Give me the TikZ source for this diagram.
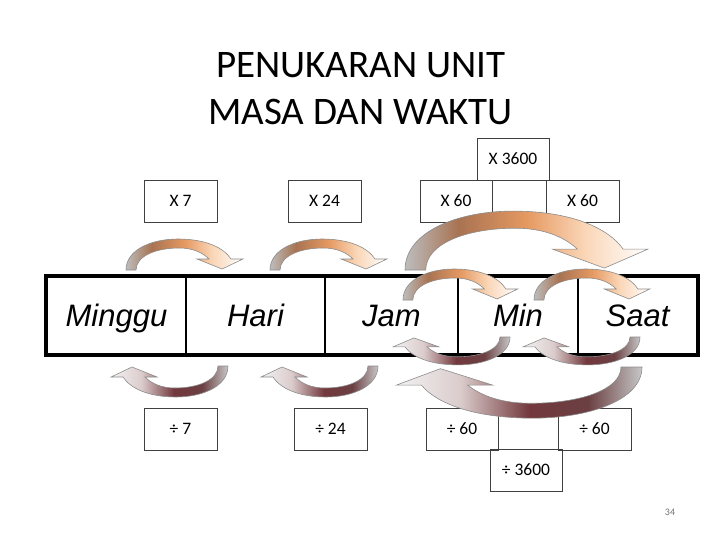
\documentclass[tikz,border=0pt]{standalone}
\usepackage{fontspec}
\setmainfont{Carlito}
\newfontfamily\arialfont{Liberation Sans}
\usepackage{tikz}
% colour runs of the bent arrows
\pgfdeclarehorizontalshading{upshade}{100bp}{rgb(0bp)=(0.74,0.74,0.74); rgb(25bp)=(0.74,0.74,0.74);
  rgb(36bp)=(0.66,0.45,0.32); rgb(50bp)=(0.90,0.60,0.38); rgb(62bp)=(0.98,0.84,0.72);
  rgb(75bp)=(1,1,1); rgb(100bp)=(1,1,1)}
\pgfdeclarehorizontalshading{downshade}{100bp}{rgb(0bp)=(0.95,0.95,0.95); rgb(25bp)=(0.95,0.95,0.95);
  rgb(38bp)=(0.86,0.80,0.80); rgb(52bp)=(0.45,0.22,0.24); rgb(64bp)=(0.42,0.25,0.26);
  rgb(75bp)=(0.78,0.78,0.78); rgb(100bp)=(0.78,0.78,0.78)}
\tikzstyle{cell}=[rectangle,draw=black,line width=2.5pt,minimum height=77pt,inner sep=0pt,
  text height=22pt,text depth=1pt,font=\arialfont\itshape\fontsize{31}{31}\selectfont]
\tikzstyle{op}=[rectangle,draw=black!75,line width=0.9pt,minimum width=73pt,minimum height=42pt,
  inner sep=0pt,font=\fontsize{17.5}{17.5}\selectfont]
\tikzstyle{head}=[anchor=base,font=\fontsize{39}{39}\selectfont]
\tikzstyle{none}=[]
% tail x, tail y, x scale, y scale, shading
\newcommand{\bendarrow}[5]{%
  \shadedraw[shading=#5,draw=black!45,line width=0.6pt]
    ({#1},{#2}) .. controls ({#1},{#2-(#4)*20}) and ({#1+(#3)*25},{#2-(#4)*31}) .. ({#1+(#3)*52},{#2-(#4)*31})
    .. controls ({#1+(#3)*80},{#2-(#4)*31}) and ({#1+(#3)*98},{#2-(#4)*22}) .. ({#1+(#3)*105},{#2-(#4)*11})
    -- ({#1+(#3)*117},{#2-(#4)*11}) -- ({#1+(#3)*96},{#2-(#4)*1}) -- ({#1+(#3)*71},{#2-(#4)*11})
    -- ({#1+(#3)*83},{#2-(#4)*11})
    .. controls ({#1+(#3)*76},{#2-(#4)*18}) and ({#1+(#3)*66},{#2-(#4)*22}) .. ({#1+(#3)*53},{#2-(#4)*22})
    .. controls ({#1+(#3)*30},{#2-(#4)*22}) and ({#1+(#3)*10},{#2-(#4)*14}) .. ({#1+(#3)*10},{#2}) -- cycle;}

\begin{document}
\begin{tikzpicture}[x=1pt, y=-1pt]
    \useasboundingbox (0, 0) rectangle (720, 540);
    \node [style=head] (t1) at (360.5, 78) {PENUKARAN UNIT};
    \node [style=head] (t2) at (360.5, 125) {MASA DAN WAKTU};

    \node [style=cell, minimum width=139pt] (0) at (116.5, 315.5) {Minggu};
    \node [style=cell, minimum width=139pt] (1) at (255.5, 315.5) {Hari};
    \node [style=cell, minimum width=133pt] (2) at (391.5, 315.5) {Jam};
    \node [style=cell, minimum width=120pt] (3) at (518, 315.5) {Min};
    \node [style=cell, minimum width=119pt] (4) at (637.5, 315.5) {Saat};
    \draw [line width=3.5pt] (0.north west) rectangle (4.south east);

    \node [style=op] (5) at (180.5, 201) {X 7};
    \node [style=op] (6) at (324.5, 201) {X 24};
    \node [style=op, minimum width=72pt] (7) at (456, 201) {X 60};
    \node [style=op] (8) at (582.5, 201) {X 60};
    \node [style=op, minimum width=72pt] (9) at (513, 159) {X 3600};
    \node [style=op] (10) at (180.5, 429) {÷ 7};
    \node [style=op] (11) at (330.5, 429) {÷ 24};
    \node [style=op, minimum width=72pt] (12) at (462, 429) {÷ 60};
    \node [style=op] (13) at (594.5, 429) {÷ 60};
    \node [style=op, minimum width=72pt] (14) at (526, 470) {÷ 3600};

    \bendarrow{126}{270}{1}{1}{upshade}
    \bendarrow{270}{270}{1}{1}{upshade}
    \bendarrow{405}{270}{2.077}{1.9}{upshade}
    \bendarrow{403}{300}{0.98}{1}{upshade}
    \bendarrow{534}{300}{0.99}{1}{upshade}
    \bendarrow{228}{366}{-1}{-1}{downshade}
    \bendarrow{378}{366}{-1}{-1}{downshade}
    \bendarrow{642}{367}{-2.1}{-1.65}{downshade}
    \bendarrow{510}{337}{-1}{-0.9}{downshade}
    \bendarrow{640}{337}{-1}{-0.9}{downshade}

    \node [style=none, text=black!55, font=\fontsize{10}{10}\selectfont] (pg) at (670, 512) {34};
\end{tikzpicture}
\end{document}
